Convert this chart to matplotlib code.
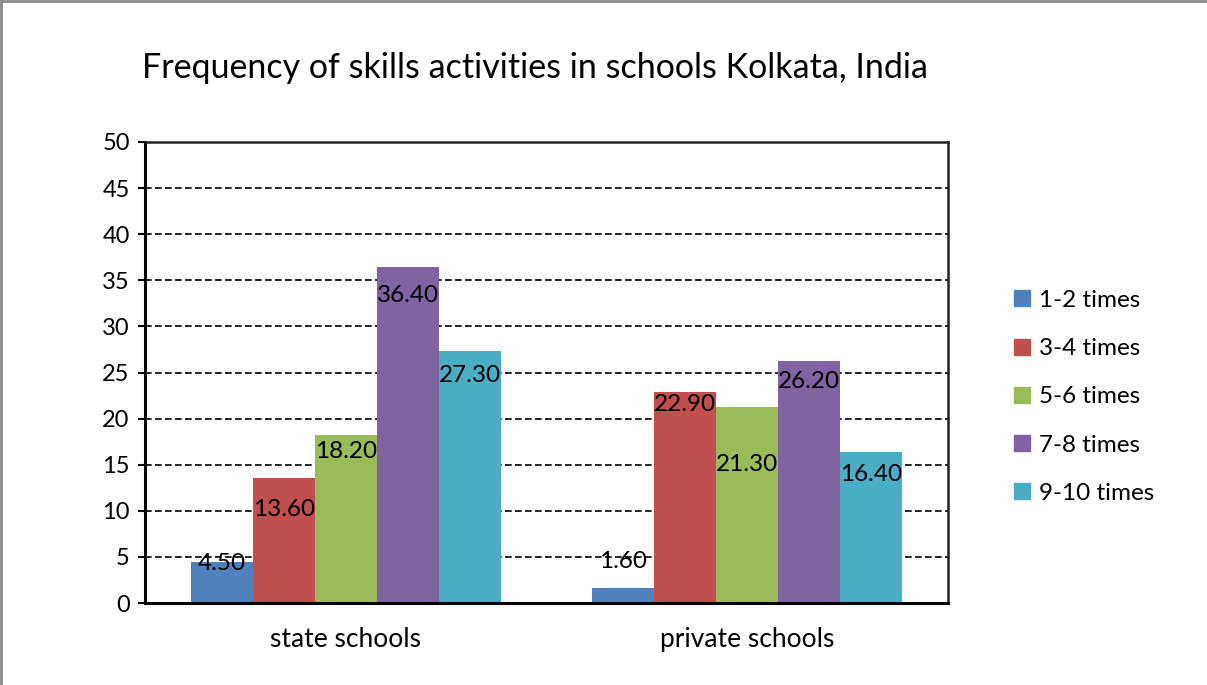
import matplotlib

matplotlib.use("Agg")
import matplotlib.pyplot as plt
from matplotlib.lines import Line2D
import numpy as np

plt.rcParams["font.family"] = ["Lato", "DejaVu Sans"]

groups = ["state schools", "private schools"]
series_names = ["1-2 times", "3-4 times", "5-6 times", "7-8 times", "9-10 times"]
state_values = [4.5, 13.6, 18.2, 36.4, 27.3]
private_values = [1.6, 22.9, 21.3, 26.2, 16.4]
colors = ["#4f81bd", "#c0504d", "#9bbb59", "#8064a2", "#4bacc6"]

# how far below each bar top its value label sits (data units), per group
label_drop = [
    [0.27, 3.5, 1.8, 3.1, 2.6],
    [-2.85, 1.4, 6.3, 2.2, 2.5],
]

fig = plt.figure(figsize=(12.07, 6.85), dpi=100)
ax = fig.add_axes([145 / 1207, 82 / 685, 803 / 1207, 461 / 685])

x = np.arange(len(groups))
width = 0.1545
values = np.array([state_values, private_values])

for i, name in enumerate(series_names):
    pos = x + (i - 2) * width
    ax.bar(pos, values[:, i], width, color=colors[i], label=name, zorder=2)
    for g in range(len(groups)):
        val = values[g, i]
        ax.text(pos[g], val - label_drop[g][i], f"{val:.2f}", ha="center",
                va="center", fontsize=17.5, color="black", zorder=4)

ax.set_xlim(-0.5, 1.5)
ax.set_ylim(0, 50)
ax.set_yticks(np.arange(0, 51, 5))
ax.set_xticks(x)
ax.set_xticklabels(groups)
ax.tick_params(axis="y", labelsize=17, length=5, width=1.5, direction="out", pad=6)
ax.tick_params(axis="x", labelsize=19, length=0, pad=17)
ax.yaxis.grid(True, linestyle=(0, (4, 2)), color="black", linewidth=1.2, zorder=1)
ax.set_axisbelow(True)
for side in ["left", "bottom"]:
    ax.spines[side].set_linewidth(2.2)
    ax.spines[side].set_color("black")
for side in ["top", "right"]:
    ax.spines[side].set_linewidth(1.8)
    ax.spines[side].set_color("#222222")

fig.text(142 / 1207, 1 - 68 / 685, "Frequency of skills activities in schools Kolkata, India",
         fontsize=24.5, ha="left", va="center")

handles = [Line2D([], [], marker="s", linestyle="none", markersize=11,
                  markerfacecolor=c, markeredgecolor=c) for c in colors]
fig.legend(handles, series_names, loc="upper left", bbox_to_anchor=(986 / 1207, 1 - 268 / 685),
           frameon=False, fontsize=17.5, handletextpad=0.1, labelspacing=1.12,
           handlelength=1.2)

# light grey frame along the top and left edges
fig.add_artist(Line2D([0.001, 0.001], [0, 1], transform=fig.transFigure, color="#8c8c8c", linewidth=2))
fig.add_artist(Line2D([0, 1], [0.998, 0.998], transform=fig.transFigure, color="#8c8c8c", linewidth=2))

fig.savefig("out.png", dpi=100)
